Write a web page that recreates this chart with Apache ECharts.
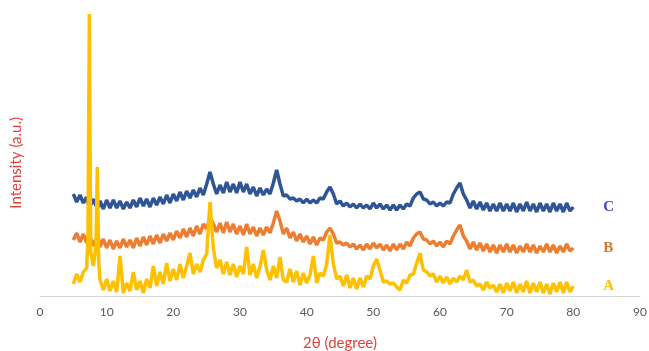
<!DOCTYPE html>
<html>
<head>
<meta charset="utf-8">
<script src="https://cdn.jsdelivr.net/npm/echarts@6/dist/echarts.min.js"></script>
<style>
  html, body { margin: 0; padding: 0; background: #fff; }
  #xrd { width: 649px; height: 351px; }
</style>
</head>
<body>
<div id="xrd"></div>
<script>
// 2-theta sampling positions (degree)
var twoTheta = [
  5, 5.5, 6, 6.5, 7, 7.2, 7.4, 7.6, 8, 8.4, 8.6, 8.8,
  9, 9.5, 10, 10.5, 11, 11.5, 12, 12.5, 13, 13.5,
  14, 14.5, 15, 15.5, 16, 16.5, 17, 17.5, 18, 18.5,
  19, 19.5, 20, 20.5, 21, 21.5, 22, 22.5, 23, 23.5,
  24, 24.5, 25, 25.5, 26, 26.5, 27, 27.5, 28, 28.5,
  29, 29.5, 30, 30.5, 31, 31.5, 32, 32.5, 33, 33.5,
  34, 34.5, 35, 35.5, 36, 36.5, 37, 37.5, 38, 38.5,
  39, 39.5, 40, 40.5, 41, 41.5, 42, 42.5, 43, 43.5,
  44, 44.5, 45, 45.5, 46, 46.5, 47, 47.5, 48, 48.5,
  49, 49.5, 50, 50.5, 51, 51.5, 52, 52.5, 53, 53.5,
  54, 54.5, 55, 55.5, 56, 56.5, 57, 57.5, 58, 58.5,
  59, 59.5, 60, 60.5, 61, 61.5, 62, 62.5, 63, 63.5,
  64, 64.5, 65, 65.5, 66, 66.5, 67, 67.5, 68, 68.5,
  69, 69.5, 70, 70.5, 71, 71.5, 72, 72.5, 73, 73.5,
  74, 74.5, 75, 75.5, 76, 76.5, 77, 77.5, 78, 78.5,
  79, 79.5, 80
];

// sample A (bottom, yellow)
var intensityA = [
  12, 22, 14, 24, 28, 60, 282, 45, 30, 50, 129, 35,
  16, 6, 17, 5, 15, 4, 40, 3, 13, 5,
  24, 6, 15, 3, 17, 8, 30, 10, 24, 12,
  33, 15, 27, 16, 32, 18, 30, 43, 22, 32,
  24, 36, 42, 94, 48, 28, 36, 22, 34, 21,
  32, 19, 30, 22, 49, 21, 32, 18, 30, 46,
  26, 16, 30, 18, 39, 16, 14, 27, 14, 25,
  11, 23, 13, 21, 40, 13, 23, 20, 32, 61,
  32, 17, 20, 10, 21, 8, 18, 7, 18, 9,
  20, 17, 30, 37, 26, 14, 15, 12, 13, 9,
  6, 16, 13, 21, 22, 33, 43, 26, 24, 20,
  22, 14, 20, 13, 19, 12, 18, 14, 20, 16,
  26, 14, 16, 10, 12, 6, 14, 8, 11, 4,
  12, 3, 13, 5, 14, 3, 12, 4, 15, 3,
  13, 4, 14, 3, 12, 2, 13, 4, 14, 3,
  14, 4, 10
];

// sample B (middle, orange)
var intensityB = [
  56, 63, 54, 62, 53, 59, 52, 58, 50, 57, 51, 57,
  49, 57, 48, 56, 47, 55, 48, 57, 49, 56,
  48, 58, 50, 59, 51, 60, 52, 61, 53, 62,
  55, 63, 56, 65, 58, 67, 59, 68, 60, 70,
  62, 72, 67, 79, 72, 64, 73, 63, 74, 64,
  72, 62, 70, 61, 72, 62, 69, 60, 68, 61,
  69, 63, 73, 85, 75, 62, 68, 58, 64, 55,
  62, 54, 60, 52, 59, 51, 58, 56, 64, 68,
  62, 53, 54, 51, 53, 49, 52, 47, 51, 46,
  52, 47, 53, 48, 52, 46, 51, 45, 52, 46,
  52, 47, 54, 50, 58, 62, 64, 57, 56, 52,
  55, 50, 54, 49, 55, 52, 60, 66, 71, 60,
  55, 47, 54, 46, 53, 45, 52, 44, 51, 43,
  51, 44, 52, 44, 51, 43, 50, 44, 52, 44,
  51, 43, 50, 44, 52, 44, 51, 43, 50, 44,
  52, 45, 48
];

// sample C (top, blue)
var intensityC = [
  102, 94, 101, 93, 99, 92, 98, 91, 97, 90, 96, 89,
  95, 87, 96, 88, 96, 88, 95, 87, 94, 88,
  96, 89, 98, 90, 97, 89, 98, 91, 99, 92,
  101, 93, 102, 95, 104, 96, 105, 98, 106, 99,
  108, 101, 112, 124, 112, 102, 111, 103, 114, 104,
  112, 103, 114, 104, 112, 102, 109, 100, 108, 101,
  107, 102, 113, 126, 112, 100, 101, 97, 98, 95,
  97, 93, 97, 93, 96, 93, 98, 97, 104, 109,
  102, 92, 95, 90, 93, 89, 92, 88, 92, 88,
  91, 87, 93, 88, 92, 87, 91, 86, 91, 86,
  91, 87, 92, 90, 98, 102, 104, 97, 96, 92,
  94, 90, 93, 90, 94, 93, 102, 108, 113, 102,
  96, 88, 95, 87, 94, 86, 93, 85, 92, 85,
  93, 85, 92, 85, 93, 84, 92, 85, 94, 85,
  92, 84, 93, 85, 92, 84, 93, 85, 92, 84,
  93, 85, 89
];

var sampleNames = ['C', 'B', 'A'];
var lineColors = ['#2F5597', '#ED7D31', '#FFC000'];
var tagColors = ['#3f3fcc', '#d9772f', '#FFC000'];

function pairs(vals) {
  return twoTheta.map(function (t, i) { return [t, vals[i]]; });
}

var chart = echarts.init(document.getElementById('xrd'));
var seriesVals = [intensityC, intensityB, intensityA];

chart.setOption({
  animation: false,
  grid: { left: 40, right: 9, top: 6, bottom: 55, outerBoundsMode: 'none' },
  xAxis: {
    type: 'value',
    min: 0,
    max: 90,
    interval: 10,
    name: '2θ (degree)',
    nameLocation: 'middle',
    nameGap: 40,
    nameTextStyle: { color: '#e0403a', fontSize: 15, fontFamily: 'Lato' },
    axisLine: { lineStyle: { color: '#d9d9d9', width: 1 } },
    axisTick: { show: false },
    splitLine: { show: false },
    axisLabel: { color: '#595959', fontSize: 12, fontFamily: 'Lato', margin: 10 }
  },
  yAxis: {
    type: 'value',
    min: 0,
    max: 290,
    axisLine: { show: false },
    axisTick: { show: false },
    axisLabel: { show: false },
    splitLine: { show: false }
  },
  graphic: [{
    type: 'text',
    left: 9,
    top: 117,
    rotation: Math.PI / 2,
    style: { text: 'Intensity (a.u.)', fill: '#e0403a', font: '15px Lato' }
  }],
  series: seriesVals.map(function (vals, k) {
    return {
      name: sampleNames[k],
      type: 'line',
      showSymbol: false,
      data: pairs(vals),
      lineStyle: { color: lineColors[k], width: 3.5 },
      endLabel: {
        show: true,
        distance: 30,
        formatter: function (p) { return p.seriesName; },
        color: tagColors[k],
        fontFamily: 'Liberation Serif',
        fontWeight: 'bold',
        fontSize: 15
      }
    };
  })
});
</script>
</body>
</html>
